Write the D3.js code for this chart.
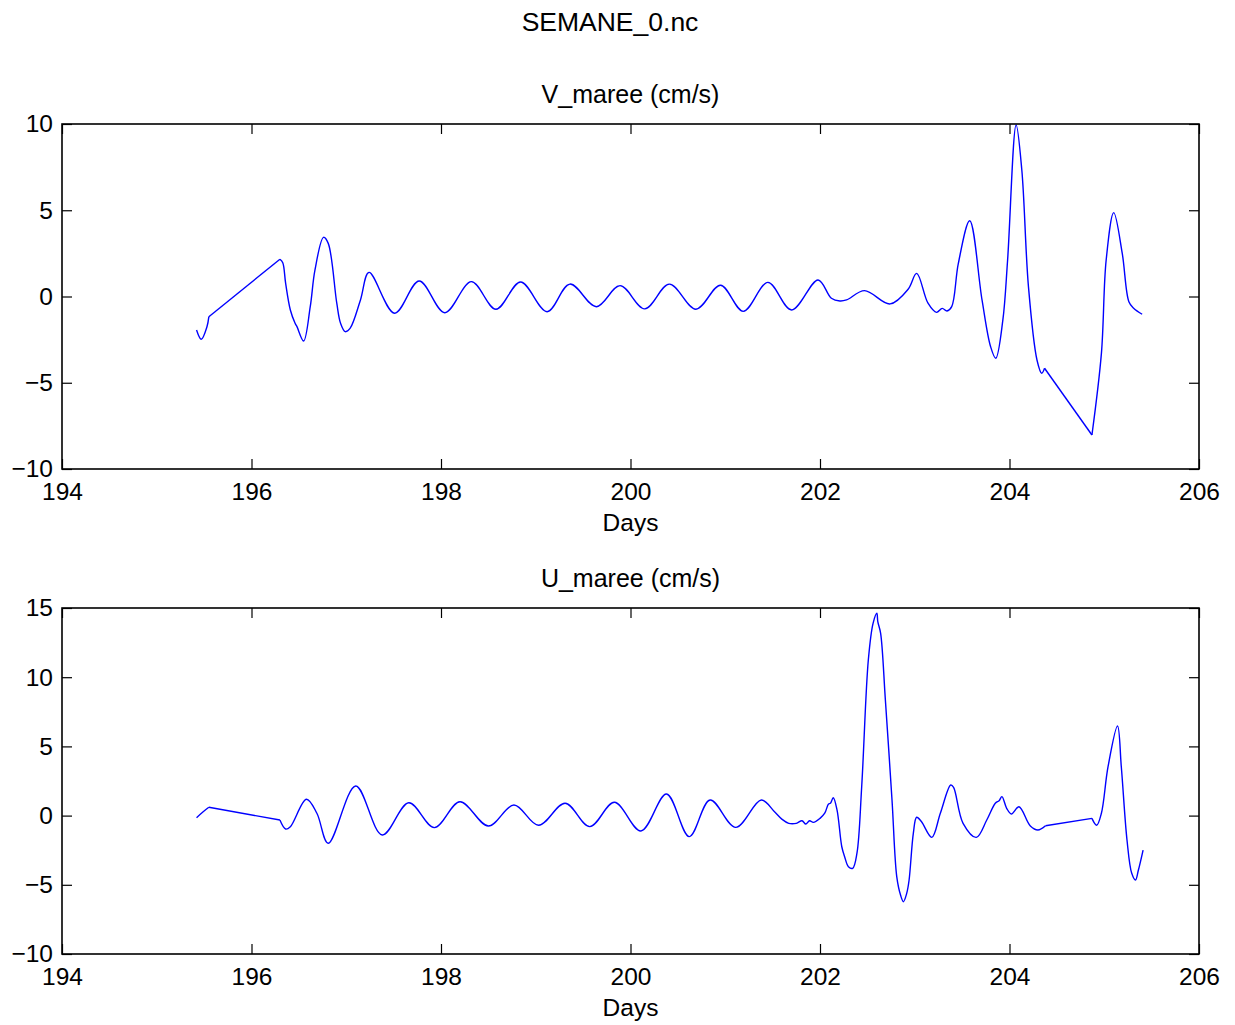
<!DOCTYPE html>
<html>
<head>
<meta charset="utf-8">
<script src="https://cdn.jsdelivr.net/npm/d3@7"></script>
<style>
  body { margin: 0; background: #fff; }
  text { font-family: "Liberation Sans", Arial, sans-serif; fill: #000; }
</style>
</head>
<body>
<div class="canvas"></div>
<script>
// time axis ticks (days)
const dayTicks = [194, 196, 198, 200, 202, 204, 206];
const vTicks = [-10, -5, 0, 5, 10];
const uTicks = [-10, -5, 0, 5, 10, 15];

// V_maree: days / values
const vDays = [195.42, 195.47, 195.53, 195.55,
  196.30, 196.33, 196.36, 196.41, 196.46, 196.48, 196.55, 196.62, 196.67, 196.76, 196.81,
  196.90, 196.94, 196.99, 197.04, 197.15, 197.24, 197.51, 197.77, 198.04, 198.32, 198.58,
  198.84, 199.12, 199.36, 199.64, 199.89, 200.15, 200.41, 200.69, 200.95, 201.19, 201.45,
  201.70, 201.98, 202.12, 202.21, 202.28, 202.47, 202.74, 202.93, 203.02, 203.14, 203.23,
  203.29, 203.34, 203.39, 203.46, 203.58, 203.71, 203.80, 203.855, 203.93, 203.98, 204.07,
  204.13, 204.20, 204.29, 204.34, 204.37,
  204.87, 204.97, 205.02, 205.10, 205.19, 205.26, 205.31, 205.40];
const vValues = [-1.94, -2.48, -1.75, -1.17,
  2.16, 1.96, 0.77, -0.78, -1.55, -1.75, -2.58, -0.59, 1.54, 3.43, 3.08,
  -0.39, -1.55, -2.04, -1.85, -0.2, 1.40, -0.97, 0.90, -0.94, 0.86, -0.74,
  0.84, -0.88, 0.72, -0.59, 0.63, -0.72, 0.72, -0.74, 0.65, -0.86, 0.82,
  -0.78, 0.96, -0.1, -0.26, -0.2, 0.34, -0.43, 0.42, 1.34, -0.39, -0.92,
  -0.69, -0.84, -0.59, 1.92, 4.39, -0.2, -2.9, -3.58, -1.36, 2.12, 9.94,
  7.33, 0.57, -3.68, -4.45, -4.16,
  -8.03, -3.3, 2.1, 4.86, 2.5, -0.3, -0.68, -1.03];
// days where the record has a gap (straight segment follows)
const vGaps = [195.55, 204.37];

// U_maree
const uDays = [195.42, 195.49, 195.55,
  196.30, 196.36, 196.41, 196.58, 196.69, 196.81, 197.10, 197.38, 197.66, 197.93, 198.20,
  198.50, 198.77, 199.03, 199.31, 199.57, 199.83, 200.11, 200.38, 200.62, 200.84, 201.11,
  201.38, 201.52, 201.60, 201.67, 201.75, 201.81, 201.85, 201.89, 201.93, 202.00, 202.05,
  202.09, 202.11, 202.14, 202.18, 202.23, 202.26, 202.30, 202.345, 202.39, 202.44, 202.51,
  202.56, 202.60, 202.61, 202.64, 202.69, 202.76, 202.81, 202.85, 202.88, 202.915, 202.94,
  202.985, 203.02, 203.07, 203.18, 203.27, 203.38, 203.41, 203.51, 203.65, 203.76, 203.85,
  203.89, 203.92, 203.97, 204.02, 204.10, 204.22, 204.30, 204.38,
  204.87, 204.92, 204.97, 205.04, 205.14, 205.18, 205.24, 205.29, 205.33, 205.36, 205.41];
const uValues = [-0.15, 0.28, 0.6,
  -0.32, -0.97, -0.8, 1.18, 0.17, -2.0, 2.14, -1.4, 0.93, -0.87, 1.0,
  -0.75, 0.77, -0.7, 0.89, -0.8, 0.96, -1.11, 1.56, -1.52, 1.13, -0.85,
  1.13, 0.28, -0.27, -0.56, -0.56, -0.37, -0.61, -0.37, -0.49, -0.2, 0.17,
  0.84, 0.89, 1.29, 0.4, -2.25, -2.97, -3.69, -3.81, -2.72, 2.09, 11.24,
  13.89, 14.62, 14.01, 13.17, 8.35, 1.13, -4.41, -5.74, -6.22, -5.62, -4.67,
  -1.28, -0.12, -0.43, -1.57, 0.17, 2.21, 2.04, -0.56, -1.57, -0.32, 0.89,
  1.08, 1.37, 0.53, 0.12, 0.64, -0.75, -1.04, -0.73,
  -0.2, -0.7, 0.17, 3.53, 6.47, 3.53, -1.76, -4.17, -4.65, -3.95, -2.49];
const uGaps = [195.55, 204.38];

const width = 1235;
const height = 1025;

const svg = d3.select(".canvas").append("svg")
  .attr("width", width).attr("height", height);

svg.append("rect").attr("width", width).attr("height", height).attr("fill", "#fff");

svg.append("text")
  .attr("x", 610).attr("y", 22).attr("dy", "0.35em")
  .attr("text-anchor", "middle").style("font-size", "26.5px")
  .text("SEMANE_0.nc");

const x = d3.scaleLinear().domain([194, 206]).range([62, 1199]);

let drawPanel = (top, bottom, yDomain, yTicks, days, values, gaps, title) => {
  const y = d3.scaleLinear().domain(yDomain).range([bottom, top]);
  const g = svg.append("g");

  // split into runs at the gaps, each run smooth, gaps straight
  const pts = days.map((d, i) => ({ d: d, v: values[i] }));
  const runs = [[]];
  pts.forEach((p) => {
    runs[runs.length - 1].push(p);
    if (gaps.indexOf(p.d) >= 0) runs.push([]);
  });
  const smooth = d3.line().x((p) => x(p.d)).y((p) => y(p.v)).curve(d3.curveCatmullRom.alpha(0.5));
  const straight = d3.line().x((p) => x(p.d)).y((p) => y(p.v));

  runs.forEach((run, i) => {
    g.append("path").attr("d", smooth(run))
      .attr("fill", "none").attr("stroke", "#0000ff").attr("stroke-width", 1.4);
    if (i < runs.length - 1) {
      g.append("path").attr("d", straight([run[run.length - 1], runs[i + 1][0]]))
        .attr("fill", "none").attr("stroke", "#0000ff").attr("stroke-width", 1.4);
    }
  });

  // axes with inward ticks on all four sides
  const axes = [
    [d3.axisBottom(x).tickValues(dayTicks).tickPadding(14), `translate(0,${bottom})`],
    [d3.axisTop(x).tickValues(dayTicks).tickFormat(""), `translate(0,${top})`],
    [d3.axisLeft(y).tickValues(yTicks).tickPadding(9), `translate(62,0)`],
    [d3.axisRight(y).tickValues(yTicks).tickFormat(""), `translate(1199,0)`],
  ];
  axes.forEach(([ax, tr]) => {
    const a = g.append("g").attr("transform", tr)
      .call(ax.tickSizeInner(-10).tickSizeOuter(0));
    a.select(".domain").remove();
    a.selectAll("line").attr("stroke", "#000").attr("stroke-width", 1.2);
    a.selectAll("text").style("font-size", "24.5px").attr("font-family", null).attr("fill", "#000");
  });

  g.append("rect")
    .attr("x", 62).attr("y", top).attr("width", 1199 - 62).attr("height", bottom - top)
    .attr("fill", "none").attr("stroke", "#000").attr("stroke-width", 1.6);

  g.append("text")
    .attr("x", 630.5).attr("y", top - 30).attr("dy", "0.35em")
    .attr("text-anchor", "middle").style("font-size", "25px")
    .text(title);

  g.append("text")
    .attr("x", 630.5).attr("y", bottom + 53).attr("dy", "0.35em")
    .attr("text-anchor", "middle").style("font-size", "24.5px")
    .text("Days");
};

drawPanel(124, 469, [-10, 10], vTicks, vDays, vValues, vGaps, "V_maree (cm/s)");
drawPanel(608, 954, [-10, 15], uTicks, uDays, uValues, uGaps, "U_maree (cm/s)");
</script>
</body>
</html>
